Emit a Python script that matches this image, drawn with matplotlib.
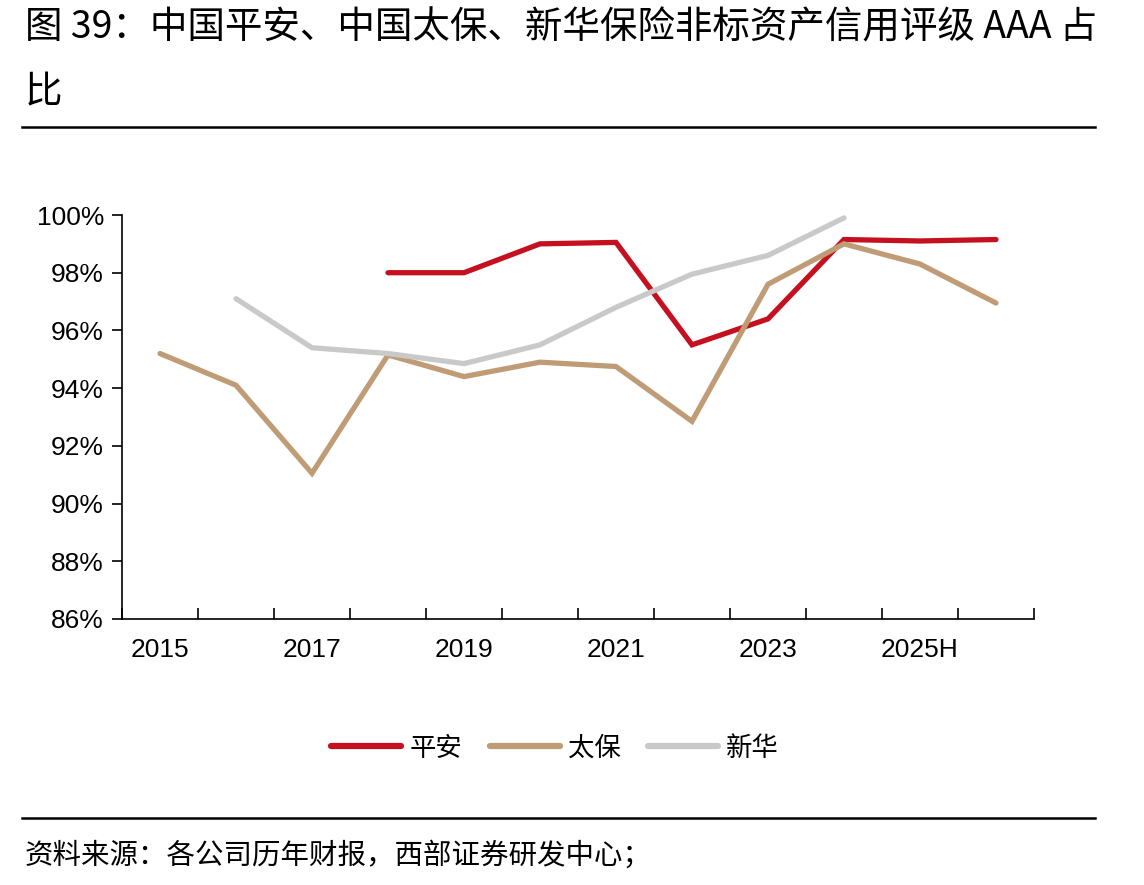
import matplotlib.pyplot as plt
from matplotlib.lines import Line2D
import numpy as np

plt.rcParams['font.family'] = ['Liberation Sans', 'Noto Sans CJK SC', 'DejaVu Sans']

# categories (last slot has no visible label in the source)
years = ['2015', '2016', '2017', '2018', '2019', '2020', '2021', '2022',
         '2023', '2024', '2025H', '']

# AAA share of non-standard assets, %
pingan = [None, None, None, 98.0, 98.0, 99.0, 99.05, 95.5, 96.4, 99.15, 99.1, 99.15]
taibao = [95.2, 94.1, 91.05, 95.15, 94.4, 94.9, 94.75, 92.85, 97.6, 99.0, 98.3, 96.95]
xinhua = [None, 97.1, 95.4, 95.2, 94.85, 95.5, 96.8, 97.95, 98.6, 99.9, None, None]

series_names = ['平安', '太保', '新华']
colors = ['#C5111F', '#BF9C76', '#C9C9C9']

fig = plt.figure(figsize=(11.44, 8.85), dpi=100, facecolor='white')
ax = fig.add_axes([122 / 1144, 1 - 619 / 885, (1034 - 122) / 1144, (619 - 215) / 885])

x = np.arange(len(years))
for vals, c in zip([pingan, taibao, xinhua], colors):
    y = np.array([np.nan if v is None else v for v in vals], dtype=float)
    ax.plot(x, y, color=c, linewidth=3.8, solid_capstyle='round', solid_joinstyle='miter')

ax.set_xlim(-0.5, len(years) - 0.5)
ax.set_ylim(86, 100)
ax.set_yticks(np.arange(86, 101, 2))
ax.set_yticklabels([f'{v}%' for v in range(86, 101, 2)], fontsize=19)

# category boundaries carry the ticks, labels every other year
ax.set_xticks(np.arange(-0.5, len(years), 1.0))
ax.set_xticklabels([])
ax.tick_params(axis='x', direction='in', length=8, width=1.2)
ax.tick_params(axis='y', direction='out', length=7, width=1.2, pad=6)
for i in range(0, len(years), 2):
    ax.text(x[i], -0.048, years[i], transform=ax.get_xaxis_transform(),
            ha='center', va='top', fontsize=19)

for s in ['top', 'right']:
    ax.spines[s].set_visible(False)
for s in ['left', 'bottom']:
    ax.spines[s].set_linewidth(1.2)

handles = [Line2D([0], [0], color=c, linewidth=4.5, solid_capstyle='round') for c in colors]
fig.legend(handles, series_names, loc='center', bbox_to_anchor=(555 / 1144, 1 - 748 / 885),
           ncol=3, frameon=False, handlelength=2.65, handletextpad=0.3, columnspacing=1.05,
           prop={'family': ['Noto Sans CJK SC'], 'size': 19})

# title block
cjk = ['Noto Sans CJK SC', 'DejaVu Sans']
fig.text(25 / 1144, 1 - 28 / 885, '图 39：中国平安、中国太保、新华保险非标资产信用评级 AAA 占',
         ha='left', va='center', fontsize=27, family=cjk)
fig.text(25 / 1144, 1 - 93 / 885, '比', ha='left', va='center', fontsize=27, family=cjk)
fig.add_artist(Line2D([22 / 1144, 1095 / 1144], [1 - 127 / 885] * 2, color='black', linewidth=1.8))
fig.add_artist(Line2D([22 / 1144, 1095 / 1144], [1 - 818 / 885] * 2, color='black', linewidth=1.8))
fig.text(25 / 1144, 1 - 856 / 885, '资料来源：各公司历年财报，西部证券研发中心；',
         ha='left', va='center', fontsize=20.5, family=cjk)

fig.savefig('out.png', dpi=100, facecolor='white')
